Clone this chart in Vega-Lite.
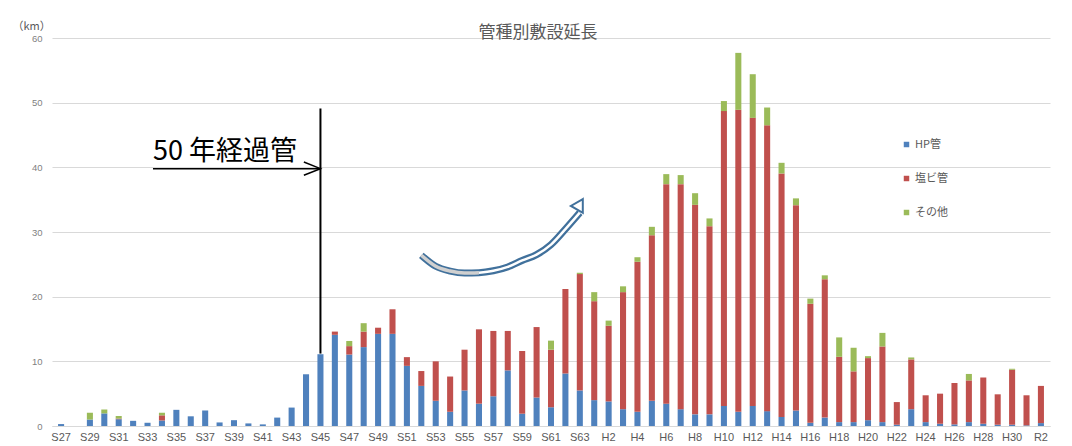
{
  "$schema": "https://vega.github.io/schema/vega-lite/v6.json",
  "width": 998,
  "height": 388,
  "autosize": {"type": "none"},
  "padding": {"left": 52, "top": 38, "right": 22, "bottom": 20},
  "background": "white",
  "config": {
    "view": {"stroke": null},
    "font": "Noto Sans CJK JP"
  },
  "title": {
    "text": "管種別敷設延長",
    "fontSize": 17,
    "fontWeight": "normal",
    "color": "#595959",
    "font": "Noto Sans CJK JP",
    "anchor": "middle",
    "dx": -13,
    "offset": -22
  },
  "datasets": {
    "pipes": [
      {"year": "S27", "HP管": 0.3, "塩ビ管": 0, "その他": 0},
      {"year": "S28", "HP管": 0, "塩ビ管": 0, "その他": 0},
      {"year": "S29", "HP管": 1.0, "塩ビ管": 0, "その他": 1.05},
      {"year": "S30", "HP管": 1.95, "塩ビ管": 0, "その他": 0.6},
      {"year": "S31", "HP管": 1.05, "塩ビ管": 0.1, "その他": 0.4},
      {"year": "S32", "HP管": 0.8, "塩ビ管": 0, "その他": 0},
      {"year": "S33", "HP管": 0.5, "塩ビ管": 0, "その他": 0},
      {"year": "S34", "HP管": 0.85, "塩ビ管": 0.8, "その他": 0.4},
      {"year": "S35", "HP管": 2.5, "塩ビ管": 0, "その他": 0},
      {"year": "S36", "HP管": 1.5, "塩ビ管": 0, "その他": 0},
      {"year": "S37", "HP管": 2.4, "塩ビ管": 0, "その他": 0},
      {"year": "S38", "HP管": 0.55, "塩ビ管": 0, "その他": 0},
      {"year": "S39", "HP管": 0.9, "塩ビ管": 0, "その他": 0},
      {"year": "S40", "HP管": 0.4, "塩ビ管": 0, "その他": 0},
      {"year": "S41", "HP管": 0.25, "塩ビ管": 0, "その他": 0},
      {"year": "S42", "HP管": 1.3, "塩ビ管": 0, "その他": 0},
      {"year": "S43", "HP管": 2.85, "塩ビ管": 0, "その他": 0},
      {"year": "S44", "HP管": 8.0, "塩ビ管": 0, "その他": 0},
      {"year": "S45", "HP管": 11.1, "塩ビ管": 0, "その他": 0},
      {"year": "S46", "HP管": 14.1, "塩ビ管": 0.5, "その他": 0},
      {"year": "S47", "HP管": 11.05, "塩ビ管": 1.3, "その他": 0.8},
      {"year": "S48", "HP管": 12.2, "塩ビ管": 2.4, "その他": 1.3},
      {"year": "S49", "HP管": 14.25, "塩ビ管": 0.95, "その他": 0},
      {"year": "S50", "HP管": 14.25, "塩ビ管": 3.8, "その他": 0},
      {"year": "S51", "HP管": 9.3, "塩ビ管": 1.35, "その他": 0},
      {"year": "S52", "HP管": 6.2, "塩ビ管": 2.3, "その他": 0},
      {"year": "S53", "HP管": 3.9, "塩ビ管": 6.1, "その他": 0},
      {"year": "S54", "HP管": 2.2, "塩ビ管": 5.45, "その他": 0},
      {"year": "S55", "HP管": 5.5, "塩ビ管": 6.3, "その他": 0},
      {"year": "S56", "HP管": 3.45, "塩ビ管": 11.5, "その他": 0},
      {"year": "S57", "HP管": 4.6, "塩ビ管": 10.1, "その他": 0},
      {"year": "S58", "HP管": 8.6, "塩ビ管": 6.1, "その他": 0},
      {"year": "S59", "HP管": 1.9, "塩ビ管": 9.7, "その他": 0},
      {"year": "S60", "HP管": 4.4, "塩ビ管": 10.9, "その他": 0},
      {"year": "S61", "HP管": 2.9, "塩ビ管": 8.9, "その他": 1.4},
      {"year": "S62", "HP管": 8.1, "塩ビ管": 13.1, "その他": 0},
      {"year": "S63", "HP管": 5.5, "塩ビ管": 18.0, "その他": 0.2},
      {"year": "H1", "HP管": 4.0, "塩ビ管": 15.3, "その他": 1.4},
      {"year": "H2", "HP管": 3.8, "塩ビ管": 11.7, "その他": 0.8},
      {"year": "H3", "HP管": 2.6, "塩ビ管": 18.1, "その他": 0.9},
      {"year": "H4", "HP管": 2.2, "塩ビ管": 23.2, "その他": 0.7},
      {"year": "H5", "HP管": 3.9, "塩ビ管": 25.6, "その他": 1.3},
      {"year": "H6", "HP管": 3.45, "塩ビ管": 33.95, "その他": 1.55},
      {"year": "H7", "HP管": 2.6, "塩ビ管": 34.8, "その他": 1.4},
      {"year": "H8", "HP管": 1.8, "塩ビ管": 32.4, "その他": 1.8},
      {"year": "H9", "HP管": 1.8, "塩ビ管": 29.1, "その他": 1.2},
      {"year": "H10", "HP管": 3.1, "塩ビ管": 45.6, "その他": 1.55},
      {"year": "H11", "HP管": 2.2, "塩ビ管": 46.7, "その他": 8.8},
      {"year": "H12", "HP管": 3.1, "塩ビ管": 44.55, "その他": 6.75},
      {"year": "H13", "HP管": 2.3, "塩ビ管": 44.2, "その他": 2.75},
      {"year": "H14", "HP管": 1.4, "塩ビ管": 37.65, "その他": 1.65},
      {"year": "H15", "HP管": 2.4, "塩ビ管": 31.75, "その他": 1.05},
      {"year": "H16", "HP管": 0.5, "塩ビ管": 18.4, "その他": 0.8},
      {"year": "H17", "HP管": 1.3, "塩ビ管": 21.4, "その他": 0.6},
      {"year": "H18", "HP管": 0.6, "塩ビ管": 10.1, "その他": 3.0},
      {"year": "H19", "HP管": 0.6, "塩ビ管": 7.85, "その他": 3.65},
      {"year": "H20", "HP管": 0.9, "塩ビ管": 9.6, "その他": 0.3},
      {"year": "H21", "HP管": 0.6, "塩ビ管": 11.7, "その他": 2.1},
      {"year": "H22", "HP管": 0.2, "塩ビ管": 3.5, "その他": 0},
      {"year": "H23", "HP管": 2.6, "塩ビ管": 7.7, "その他": 0.3},
      {"year": "H24", "HP管": 0.6, "塩ビ管": 4.15, "その他": 0},
      {"year": "H25", "HP管": 0.35, "塩ビ管": 4.65, "その他": 0},
      {"year": "H26", "HP管": 0.25, "塩ビ管": 6.4, "その他": 0},
      {"year": "H27", "HP管": 0.6, "塩ビ管": 6.45, "その他": 1.0},
      {"year": "H28", "HP管": 0.35, "塩ビ管": 7.15, "その他": 0},
      {"year": "H29", "HP管": 0.2, "塩ビ管": 4.7, "その他": 0},
      {"year": "H30", "HP管": 0.2, "塩ビ管": 8.5, "その他": 0.15},
      {"year": "R1", "HP管": 0.1, "塩ビ管": 4.65, "その他": 0},
      {"year": "R2", "HP管": 0.45, "塩ビ管": 5.75, "その他": 0}
    ],
    "growthArrow": [
      {"year": "S52", "km": 26.4},
      {"year": "S53", "km": 24.7},
      {"year": "S54", "km": 23.96},
      {"year": "S55", "km": 23.65},
      {"year": "S56", "km": 23.7},
      {"year": "S57", "km": 24.0},
      {"year": "S58", "km": 24.6},
      {"year": "S59", "km": 25.6},
      {"year": "S60", "km": 26.5},
      {"year": "S61", "km": 28.05},
      {"year": "S62", "km": 30.45},
      {"year": "S63", "km": 33.0}
    ]
  },
  "layer": [
    {
      "data": {"name": "pipes"},
      "transform": [
        {"fold": ["HP管", "塩ビ管", "その他"], "as": ["pipe", "km"]},
        {"calculate": "indexof(['HP管', '塩ビ管', 'その他'], datum.pipe)", "as": "stackOrder"}
      ],
      "mark": {"type": "bar"},
      "encoding": {
        "x": {
          "field": "year",
          "type": "nominal",
          "scale": {
            "domain": ["S27","S28","S29","S30","S31","S32","S33","S34","S35","S36","S37","S38","S39","S40","S41","S42","S43","S44","S45","S46","S47","S48","S49","S50","S51","S52","S53","S54","S55","S56","S57","S58","S59","S60","S61","S62","S63","H1","H2","H3","H4","H5","H6","H7","H8","H9","H10","H11","H12","H13","H14","H15","H16","H17","H18","H19","H20","H21","H22","H23","H24","H25","H26","H27","H28","H29","H30","R1","R2"],
            "paddingInner": 0.58,
            "paddingOuter": 0.42
          },
          "axis": {
            "values": ["S27","S29","S31","S33","S35","S37","S39","S41","S43","S45","S47","S49","S51","S53","S55","S57","S59","S61","S63","H2","H4","H6","H8","H10","H12","H14","H16","H18","H20","H22","H24","H26","H28","H30","R2"],
            "title": null,
            "labelAngle": 0,
            "ticks": false,
            "domain": true,
            "domainColor": "#D9D9D9",
            "grid": false,
            "labelFont": "Liberation Sans",
            "labelFontSize": 11,
            "labelColor": "#595959",
            "labelPadding": 5
          }
        },
        "y": {
          "field": "km",
          "type": "quantitative",
          "stack": "zero",
          "scale": {"domain": [0, 60], "nice": false},
          "axis": {
            "values": [0, 10, 20, 30, 40, 50, 60],
            "grid": true,
            "gridColor": "#D9D9D9",
            "domain": false,
            "ticks": false,
            "labelPadding": 10,
            "labelFont": "Liberation Sans",
            "labelFontSize": 9.5,
            "labelColor": "#7F7F7F",
            "title": "（km）",
            "titleAngle": 0,
            "titleAlign": "left",
            "titleBaseline": "middle",
            "titleX": -40,
            "titleY": -12,
            "titleFont": "Noto Sans CJK JP",
            "titleFontSize": 11,
            "titleFontWeight": "normal",
            "titleColor": "#595959"
          }
        },
        "color": {
          "field": "pipe",
          "type": "nominal",
          "sort": ["HP管", "塩ビ管", "その他"],
          "scale": {
            "domain": ["HP管", "塩ビ管", "その他"],
            "range": ["#4F81BD", "#C0504D", "#9BBB59"]
          },
          "legend": {
            "title": null,
            "orient": "none",
            "legendX": 849,
            "legendY": 101,
            "padding": 0,
            "symbolType": "square",
            "symbolSize": 30,
            "symbolStrokeWidth": 0,
            "labelFont": "Noto Sans CJK JP",
            "labelFontSize": 11,
            "labelColor": "#595959",
            "labelOffset": 3,
            "rowPadding": 22
          }
        },
        "order": {"field": "stackOrder", "type": "quantitative", "sort": "ascending"}
      }
    },
    {
      "data": {"values": [{"year": "S45", "top": 49.1, "bottom": 11.2}]},
      "mark": {"type": "rule", "color": "black", "strokeWidth": 2},
      "encoding": {
        "x": {"field": "year", "type": "nominal"},
        "y": {"field": "top", "type": "quantitative"},
        "y2": {"field": "bottom"}
      }
    },
    {
      "data": {"values": [{"year": "S33", "end": "S45", "km": 39.8}]},
      "mark": {"type": "rule", "color": "black", "strokeWidth": 1.5},
      "encoding": {
        "x": {"field": "year", "type": "nominal", "bandPosition": 1.4},
        "x2": {"field": "end"},
        "y": {"field": "km", "type": "quantitative"}
      }
    },
    {
      "data": {"values": [{"year": "S45", "km": 39.8}]},
      "mark": {
        "type": "point",
        "shape": "M-1,-0.4L0,0L-1,0.4",
        "filled": false,
        "stroke": "black",
        "strokeWidth": 1.5,
        "size": 1100,
        "opacity": 1
      },
      "encoding": {
        "x": {"field": "year", "type": "nominal"},
        "y": {"field": "km", "type": "quantitative"}
      }
    },
    {
      "data": {"values": [{"year": "S33", "km": 41.2, "label": "50 年経過管"}]},
      "mark": {
        "type": "text",
        "align": "left",
        "baseline": "alphabetic",
        "font": "Noto Sans CJK JP",
        "fontSize": 27,
        "color": "black"
      },
      "encoding": {
        "x": {"field": "year", "type": "nominal", "bandPosition": 1.4},
        "y": {"field": "km", "type": "quantitative"},
        "text": {"field": "label"}
      }
    },
    {
      "data": {"name": "growthArrow"},
      "mark": {"type": "line", "color": "#41719C", "strokeWidth": 7, "interpolate": "monotone", "strokeCap": "butt"},
      "encoding": {
        "x": {"field": "year", "type": "nominal"},
        "y": {"field": "km", "type": "quantitative"}
      }
    },
    {
      "data": {"name": "growthArrow"},
      "transform": [{"filter": {"field": "year", "oneOf": ["S52", "S53", "S54", "S55", "S56"]}}],
      "mark": {"type": "line", "color": "#D0D0D0", "strokeWidth": 3.5, "interpolate": "monotone", "strokeCap": "butt"},
      "encoding": {
        "x": {"field": "year", "type": "nominal"},
        "y": {"field": "km", "type": "quantitative"}
      }
    },
    {
      "data": {"name": "growthArrow"},
      "transform": [{"filter": {"field": "year", "oneOf": ["S56", "S57", "S58", "S59", "S60", "S61", "S62", "S63"]}}],
      "mark": {"type": "line", "color": "white", "strokeWidth": 2.5, "interpolate": "monotone", "strokeCap": "butt"},
      "encoding": {
        "x": {"field": "year", "type": "nominal"},
        "y": {"field": "km", "type": "quantitative"}
      }
    },
    {
      "data": {"values": [{"year": "S63", "km": 34.3}]},
      "mark": {
        "type": "point",
        "shape": "triangle-up",
        "filled": true,
        "fill": "white",
        "stroke": "#41719C",
        "strokeWidth": 2,
        "size": 190,
        "angle": 30,
        "opacity": 1
      },
      "encoding": {
        "x": {"field": "year", "type": "nominal"},
        "y": {"field": "km", "type": "quantitative"}
      }
    }
  ]
}
